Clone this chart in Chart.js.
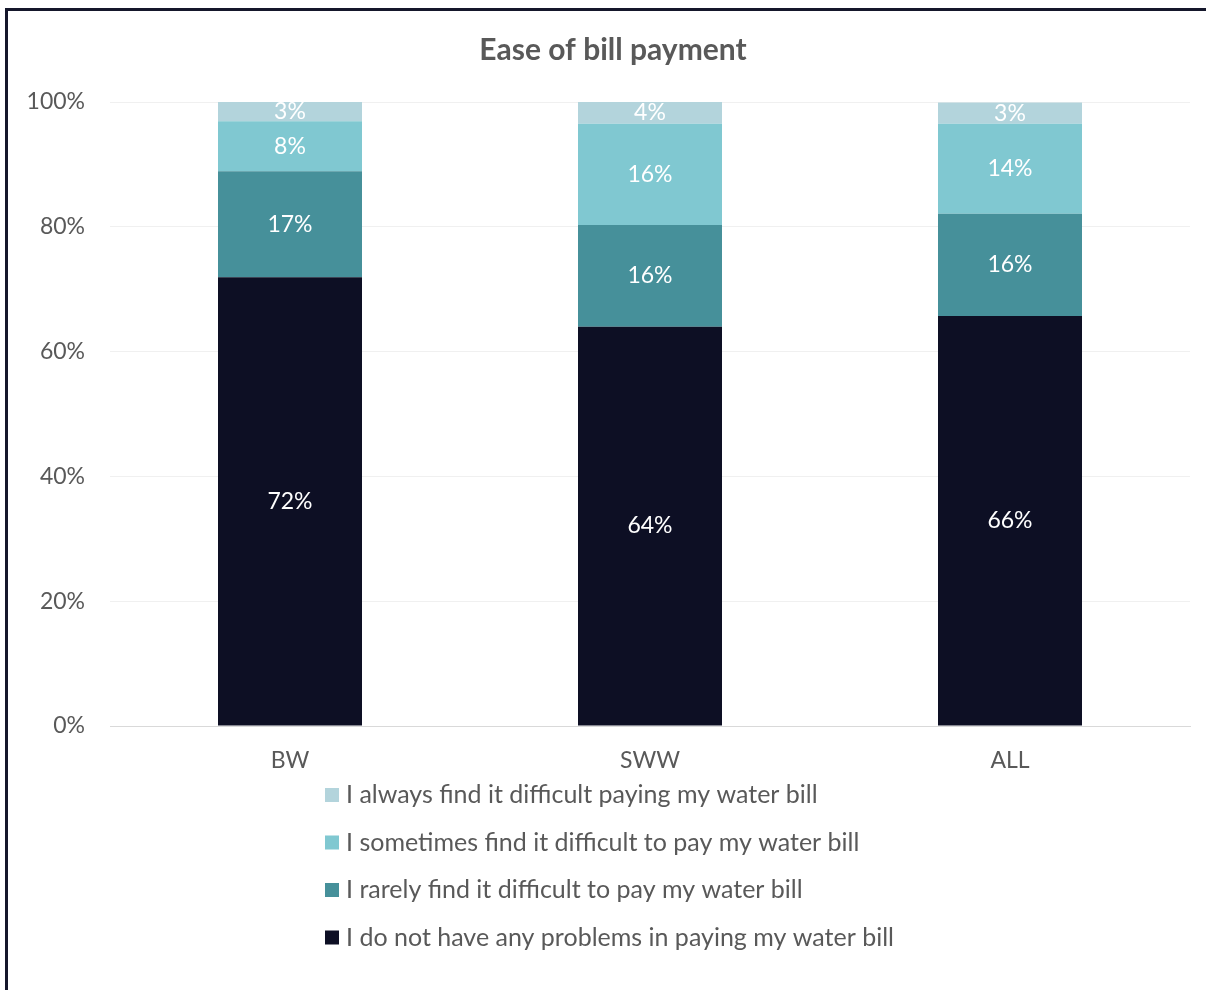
<!DOCTYPE html>
<html>
<head>
<meta charset="utf-8">
<title>Ease of bill payment</title>
<script src="https://cdn.jsdelivr.net/npm/chart.js@4.4.1/dist/chart.umd.min.js"></script>
<style>
  html, body { margin: 0; padding: 0; background: #fff; overflow: hidden; }
  #wrap { position: relative; width: 1206px; height: 990px; }
  #frame { position: absolute; left: 5px; top: 8px; width: 1300px; height: 1100px; border: 3px solid #15172b; pointer-events: none; }
  #wrap canvas { position: absolute; left: 0; top: 0; }
</style>
</head>
<body>
<div id="wrap">
  <canvas id="billChart" width="1206" height="990"></canvas>
  <div id="frame"></div>
</div>
<script>
// survey groups
const groups = ['BW', 'SWW', 'ALL'];

// share of respondents (%), bottom of the stack first
const noProblems = [71.9, 64.0, 65.7];
const rarely = [17.0, 16.3, 16.4];
const sometimes = [8.0, 16.2, 14.4];
const always = [3.1, 3.5, 3.4];

const seriesNames = [
    'I do not have any problems in paying my water bill',
    'I rarely find it difficult to pay my water bill',
    'I sometimes find it difficult to pay my water bill',
    'I always find it difficult paying my water bill'
];
const seriesColors = ['#0d0f24', '#46909a', '#80c8d1', '#b3d4dc'];

const yTicks = [0, 20, 40, 60, 80, 100];

const chartTitle = 'Ease of bill payment';
const textGray = '#595959';
Chart.defaults.font.family = 'Lato, "Open Sans", sans-serif';

// title centred on the whole canvas, not on the plot
const canvasTitle = {
    id: 'canvasTitle',
    afterDraw(chart){
        const ctx = chart.ctx;
        ctx.save();
        ctx.font = 'bold 30px Lato';
        ctx.fillStyle = textGray;
        ctx.textAlign = 'center';
        ctx.textBaseline = 'middle';
        ctx.fillText(chartTitle, 613, 50);
        ctx.restore();
    }
};

// percentage written in the middle of every segment
const segmentLabels = {
    id: 'segmentLabels',
    afterDatasetsDraw(chart){
        const ctx = chart.ctx;
        ctx.save();
        ctx.font = '23px Lato';
        ctx.fillStyle = '#ffffff';
        ctx.textAlign = 'center';
        ctx.textBaseline = 'middle';
        chart.data.datasets.forEach((ds, i) => {
            chart.getDatasetMeta(i).data.forEach((bar, j) => {
                const {x, y, base} = bar.getProps(['x', 'y', 'base'], true);
                ctx.fillText(Math.round(ds.data[j]) + '%', x, (y + base) / 2);
            });
        });
        ctx.restore();
    }
};

// legend stacked in one column, top series first
const columnLegend = {
    id: 'columnLegend',
    afterDraw(chart){
        const ctx = chart.ctx;
        const dsList = chart.data.datasets;
        const top = chart.chartArea.bottom + 69;
        ctx.save();
        ctx.font = '25px Lato';
        ctx.textAlign = 'left';
        ctx.textBaseline = 'middle';
        for(let i = 0; i < dsList.length; i++){
            const ds = dsList[dsList.length - 1 - i];
            const y = top + i * 47.5;
            ctx.fillStyle = ds.backgroundColor;
            ctx.fillRect(325, y - 7, 14, 14);
            ctx.fillStyle = textGray;
            ctx.fillText(ds.label, 346, y);
        }
        ctx.restore();
    }
};

const values = [noProblems, rarely, sometimes, always];

new Chart(document.getElementById('billChart'), {
    type: 'bar',
    data: {
        labels: groups,
        datasets: values.map((v, i) => ({
            label: seriesNames[i],
            data: v,
            backgroundColor: seriesColors[i],
            borderWidth: 0,
            barPercentage: 0.4,
            categoryPercentage: 1
        }))
    },
    options: {
        responsive: false,
        animation: false,
        layout: {
            padding: {left: 10, right: 16, top: 102, bottom: 0}
        },
        plugins: {
            legend: {display: false},
            tooltip: {enabled: false},
            title: {display: false}
        },
        scales: {
            x: {
                stacked: true,
                grid: {display: false},
                border: {display: true, color: '#d9d9d9', width: 1},
                ticks: {color: textGray, font: {size: 23}, padding: 13},
                afterFit(scale){ scale.height = 264; }
            },
            y: {
                stacked: true,
                min: 0,
                max: 100,
                afterBuildTicks(scale){ scale.ticks = yTicks.map(v => ({value: v})); },
                grid: {
                    drawTicks: false,
                    color: ctx => ctx.tick.value === 0 ? '#d9d9d9' : '#f0f0f0'
                },
                border: {display: false},
                ticks: {
                    color: textGray,
                    font: {size: 23},
                    padding: 25,
                    callback: v => v + '%'
                },
                afterFit(scale){ scale.width = 100; }
            }
        }
    },
    plugins: [segmentLabels, columnLegend, canvasTitle]
});
</script>
</body>
</html>
